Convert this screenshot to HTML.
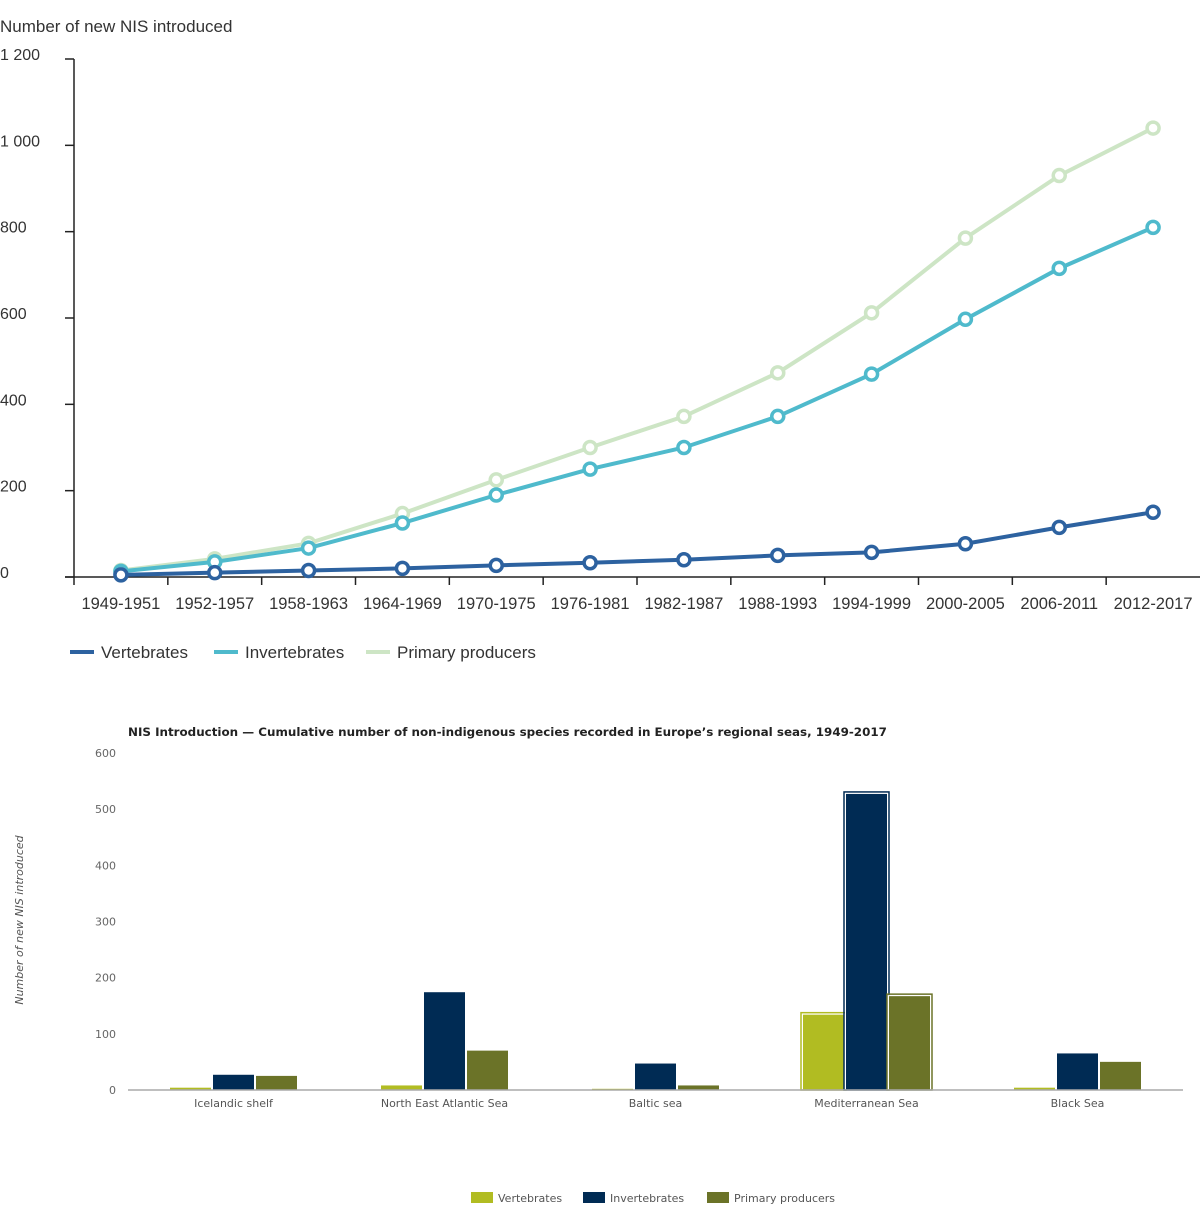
<!DOCTYPE html>
<html><head><meta charset="utf-8"><style>
html,body{margin:0;padding:0;background:#fff;width:1200px;height:1212px;overflow:hidden}
svg{display:block}
</style></head><body>
<svg id="c" width="1200" height="1212" xmlns="http://www.w3.org/2000/svg" font-family="'Liberation Sans','DejaVu Sans',sans-serif">
<g id="top"></g>
<g id="bot" font-family="'DejaVu Sans',sans-serif"></g>
</svg>
<script>
const periods=["1949-1951","1952-1957","1958-1963","1964-1969","1970-1975","1976-1981","1982-1987","1988-1993","1994-1999","2000-2005","2006-2011","2012-2017"];
const vertebrates=[5,10,15,20,27,33,40,50,57,77,115,150];
const invertebrates=[13,35,67,125,190,250,300,372,470,597,715,810];
const primaryProducers=[15,42,78,147,225,300,372,473,612,785,930,1040];
const lineTicks=[0,200,400,600,800,1000,1200];
const lineTickLabels=["0","200","400","600","800","1 000","1 200"];

const seas=["Icelandic shelf","North East Atlantic Sea","Baltic sea","Mediterranean Sea","Black Sea"];
const barVert=[5,9,3,135,5];
const barInv=[28,175,48,528,66];
const barPrim=[26,71,9,168,51];
const barTicks=[0,100,200,300,400,500,600];

const NS="http://www.w3.org/2000/svg";
function mk(p,tag,a,txt){const e=document.createElementNS(NS,tag);for(const k in a)e.setAttribute(k,a[k]);if(txt!==undefined)e.textContent=txt;p.appendChild(e);return e;}

// ---- Line chart ----
const T=document.getElementById('top');
const x0=74,x1=1200,yb=577,yt=59;
const band=(x1-x0)/periods.length;
const lx=i=>x0+band*(i+0.5);
const ly=v=>yb-(v/1200)*(yb-yt);
let t=mk(T,'text',{x:0,y:32,'font-size':17,fill:'#333'},"Number of new NIS introduced");


let ax=mk(T,'line',{x1:x0,y1:yt,x2:x0,y2:yb,stroke:'#222','stroke-width':1.5});


lineTicks.forEach((v,i)=>{
  const tk=mk(T,'line',{x1:x0-9,y1:ly(v),x2:x0,y2:ly(v),stroke:'#222','stroke-width':1.5});
  
  
  const l=mk(T,'text',{x:0,y:ly(v)+1,'font-size':16,fill:'#333'},lineTickLabels[i]);
  
  
});
let xa=mk(T,'line',{x1:x0-9,y1:yb,x2:x1,y2:yb,stroke:'#222','stroke-width':1.5});


periods.forEach((p,i)=>{
  const tk=mk(T,'line',{x1:x0+band*i,y1:yb,x2:x0+band*i,y2:yb+8,stroke:'#222','stroke-width':1.5});
  
  
  const l=mk(T,'text',{x:lx(i),y:609,'font-size':16.5,fill:'#333','text-anchor':'middle'},p);
  
  
});
const lineSeries=[[primaryProducers,'#cde5c5','primary-producers'],[invertebrates,'#4fbacc','invertebrates'],[vertebrates,'#2d62a0','vertebrates']];
lineSeries.forEach(([d,c,n])=>{
  const g=mk(T,'g',{});
  
  
  const pl=mk(g,'polyline',{points:d.map((v,i)=>lx(i)+','+ly(v)).join(' '),fill:'none',stroke:c,'stroke-width':4});
  
  
  d.forEach((v,i)=>{
    const m=mk(g,'circle',{cx:lx(i),cy:ly(v),r:6,fill:'#fff',stroke:c,'stroke-width':3.5});
    
    
  });
});
const legL=[['Vertebrates','#2d62a0',70],['Invertebrates','#4fbacc',214],['Primary producers','#cde5c5',366]];
legL.forEach(([n,c,x])=>{
  const g=mk(T,'g',{});
  
  
  mk(g,'line',{x1:x,y1:652,x2:x+24,y2:652,stroke:c,'stroke-width':4});
  mk(g,'text',{x:x+31,y:658,'font-size':17,fill:'#333'},n);
});

// ---- Bar chart ----
const B=document.getElementById('bot');
const bx0=128,bx1=1183,by0=1090,byt=753;
const bband=(bx1-bx0)/seas.length;
const by=v=>by0-(v/600)*(by0-byt);
let tt=mk(B,'text',{x:128,y:736,'font-size':11.9,'font-weight':'bold',fill:'#222'},"NIS Introduction \u2014 Cumulative number of non-indigenous species recorded in Europe\u2019s regional seas, 1949-2017");


let yt2=mk(B,'text',{x:0,y:0,'font-size':11,'font-style':'italic',fill:'#555','text-anchor':'middle',transform:'translate(23,920) rotate(-90)'},"Number of new NIS introduced");


barTicks.forEach(v=>{
  const l=mk(B,'text',{x:116,y:by(v)+4,'font-size':11,fill:'#666','text-anchor':'end'},String(v));
  
  
});
const barSeries=[[barVert,'#b1bc22','vertebrates',-64],[barInv,'#002b54','invertebrates',-21],[barPrim,'#6b7328','primary-producers',22]];
seas.forEach((s,i)=>{
  const cx=bx0+bband*(i+0.5);
  barSeries.forEach(([d,c,n,off])=>{
    const h=by0-by(d[i]);
    const r=mk(B,'rect',{x:cx+off,y:by(d[i]),width:42,height:h,fill:c,stroke:'#fff','stroke-width':1});
    
    
    if(i===3){
      const o=mk(B,'rect',{x:cx+off-1.5,y:by(d[i])-1.5,width:45,height:h+1.5,fill:'none',stroke:c,'stroke-width':1.5});
      
      
    }
  });
  const l=mk(B,'text',{x:cx,y:1107,'font-size':11,fill:'#555','text-anchor':'middle'},s);
  
  
});
let bxa=mk(B,'line',{x1:bx0,y1:by0,x2:bx1,y2:by0,stroke:'#aaa','stroke-width':1.5});


const legB=[['Vertebrates','#b1bc22',471],['Invertebrates','#002b54',583],['Primary producers','#6b7328',707]];
legB.forEach(([n,c,x])=>{
  const g=mk(B,'g',{});
  
  
  mk(g,'rect',{x:x,y:1192,width:22,height:11,fill:c});
  mk(g,'text',{x:x+27,y:1202,'font-size':11,fill:'#555'},n);
});
</script>
</body></html>
